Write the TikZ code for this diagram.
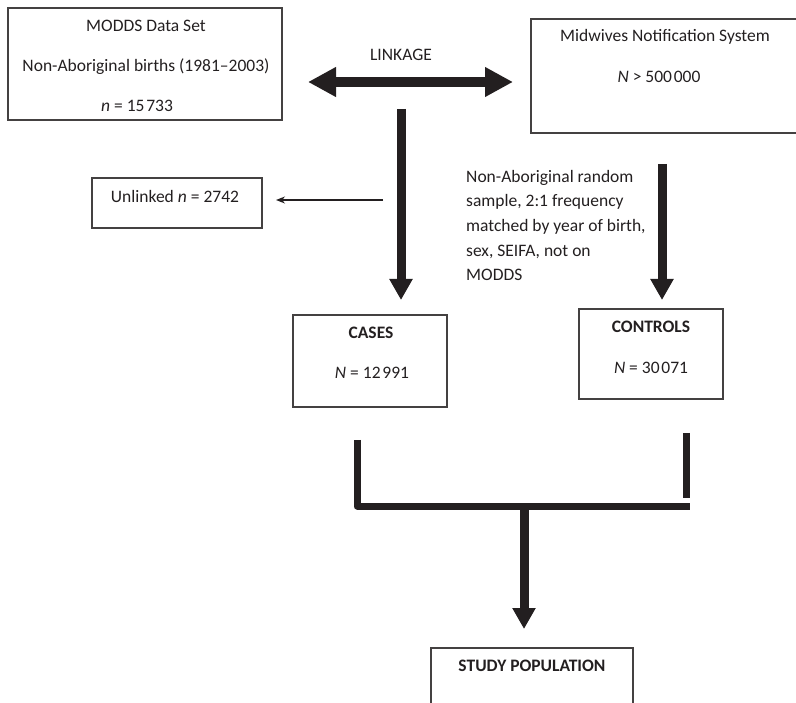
\documentclass[tikz,border=0pt]{standalone}
\usepackage{fontspec}
\setmainfont{Carlito}
\usetikzlibrary{arrows.meta}
\definecolor{ink}{HTML}{231F20}
\newcommand{\thsep}{\kern0.1em}
\begin{document}
\begin{tikzpicture}[x=1pt,y=-1pt,
  box/.style={draw=ink!85, line width=1.2pt, rectangle, inner sep=0pt},
  txt/.style={text=ink, font=\fontsize{17.5}{21}\selectfont, inner sep=0pt},
  btxt/.style={txt, font=\fontsize{17.5}{21}\selectfont\bfseries},
  fat/.style={draw=ink, line width=9pt, -{Triangle[length=21pt,width=22pt]}},
  bar/.style={draw=ink, line width=7pt}
]
\useasboundingbox (0,0) rectangle (796,703);
\clip (0,0) rectangle (796,703);

% boxes
\node[box, minimum width=274pt, minimum height=112pt] (modds) at (145,64) {};
\node[box, minimum width=270pt, minimum height=114pt] (mns) at (666,76) {};
\node[box, minimum width=170pt, minimum height=50pt] (unl) at (177,203) {};
\node[box, minimum width=154pt, minimum height=92pt] (cases) at (370,361) {};
\node[box, minimum width=144pt, minimum height=90pt] (controls) at (651,354) {};
\node[box, minimum width=202pt, minimum height=80pt] (study) at (532,688) {};

% texts
\node[txt] (t1) at (146,26) {MODDS Data Set};
\node[txt] (t2) at (146,67) {Non-Aboriginal births (1981–2003)};
\node[txt] (t3) at (137,106) {\textit{n} = 15\thsep733};
\node[txt] (t4) at (665,37) {Midwives Notification System};
\node[txt] (t5) at (659,77) {\textit{N} > 500\thsep000};
\node[txt] (link) at (401,55) {LINKAGE};
\node[txt] (t6) at (175,196) {Unlinked \textit{n} = 2742};
\node[btxt] (t7) at (371,333) {CASES};
\node[txt] (t8) at (372,373) {\textit{N} = 12\thsep991};
\node[btxt] (t9) at (651,327) {CONTROLS};
\node[txt] (t10) at (651,368) {\textit{N} = 30\thsep071};
\node[btxt] (t11) at (532,666) {STUDY POPULATION};
\node[txt, anchor=north west, align=left, font=\fontsize{17.5}{24.6}\selectfont] (t12) at (466,170)
  {Non-Aboriginal random\\sample, 2:1 frequency\\matched by year of birth,\\sex, SEIFA, not on\\MODDS};

% connector end points
\coordinate (lkL) at (308,82);
\coordinate (lkR) at (513,82);
\coordinate (cTop) at (401,109);
\coordinate (cTip) at (401,300);
\coordinate (uFrom) at (383,200);
\coordinate (uTo) at (276,200);
\coordinate (kTop) at (662,164);
\coordinate (kTip) at (662,300);
\coordinate (bL) at (357,440);
\coordinate (bLc) at (357,506);
\coordinate (bRc) at (686,506);
\coordinate (rT) at (686,433);
\coordinate (rB) at (686,498);
\coordinate (sT) at (524,506);
\coordinate (sTip) at (524,629);

% connectors
\draw[draw=ink, line width=10pt, {Triangle[length=28pt,width=28pt]}-{Triangle[length=28pt,width=28pt]}] (lkL) -- (lkR);
\draw[fat] (cTop) -- (cTip);
\draw[fat] (kTop) -- (kTip);
\draw[draw=ink, line width=1.3pt, -{Stealth[length=9pt,width=7pt]}] (uFrom) -- (uTo);
\draw[bar, line join=round] (bL) -- (bLc) -- ([xshift=3.5pt]bRc);
\draw[bar] (rT) -- (rB);
\draw[fat] (sT) -- (sTip);
\end{tikzpicture}
\end{document}
